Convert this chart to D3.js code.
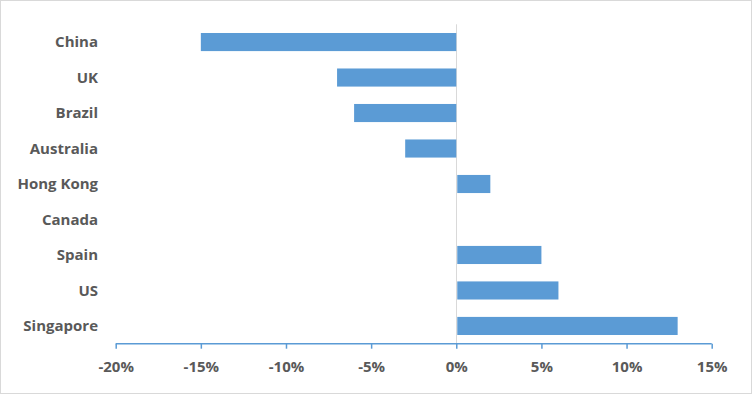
<!DOCTYPE html>
<html lang="en">
<head>
<meta charset="utf-8">
<title>Change by country</title>
<script src="https://d3js.org/d3.v7.min.js"></script>
<style>
  body { margin: 0; background: #fff; }
  svg text { font-family: "Open Sans", "Liberation Sans", Arial, sans-serif; }
</style>
</head>
<body>
<script>
// data
var countries = ["China", "UK", "Brazil", "Australia", "Hong Kong", "Canada", "Spain", "US", "Singapore"];
var values = [-15, -7, -6, -3, 2, 0, 5, 6, 13];
var tickValues = [-20, -15, -10, -5, 0, 5, 10, 15];

var w = 752, h = 394;
var padLeft = 115.7, padRight = 711.7, padTop = 24.3, padBottom = 343.7;

var svg = d3.select("body").append("svg")
  .attr("width", w)
  .attr("height", h);

// frame
svg.append("rect")
  .attr("x", 0.5).attr("y", 0.5)
  .attr("width", w - 1).attr("height", h - 1)
  .attr("fill", "#fff")
  .attr("stroke", "#d9d9d9");

var xScale = d3.scaleLinear().domain([-20, 15]).range([padLeft, padRight]);
var yScale = d3.scaleBand().domain(countries).range([padTop, padBottom]).paddingInner(0.49).paddingOuter(0.245);

// zero line
svg.append("line")
  .attr("x1", Math.round(xScale(0)) + 0.5).attr("x2", Math.round(xScale(0)) + 0.5)
  .attr("y1", padTop).attr("y2", padBottom)
  .attr("stroke", "#d9d9d9")
  .attr("stroke-width", 1);

// bars
svg.selectAll("rect.bar")
  .data(countries)
  .enter()
  .append("rect")
  .attr("class", "bar")
  .attr("x", function(d, i) { return values[i] < 0 ? xScale(values[i]) : xScale(0) + 1; })
  .attr("y", function(d) { return yScale(d); })
  .attr("width", function(d, i) { return Math.max(0, Math.abs(xScale(values[i]) - xScale(0)) - (values[i] > 0 ? 1 : 0)); })
  .attr("height", yScale.bandwidth())
  .attr("fill", "#5b9bd5");

// category labels
svg.selectAll("text.cat")
  .data(countries)
  .enter()
  .append("text")
  .attr("class", "cat")
  .attr("x", 98)
  .attr("y", function(d) { return yScale(d) + yScale.bandwidth() / 2; })
  .attr("dy", "0.35em")
  .attr("text-anchor", "end")
  .attr("font-size", "15px")
  .attr("font-weight", "bold")
  .attr("fill", "#595959")
  .text(function(d) { return d; });

// x axis
var xAxis = d3.axisBottom(xScale)
  .tickValues(tickValues)
  .tickSize(5)
  .tickSizeOuter(0)
  .tickFormat(function(d) { return d + "%"; });

var gx = svg.append("g")
  .attr("transform", "translate(0," + padBottom + ")")
  .call(xAxis);

gx.select(".domain").attr("stroke", "#5b9bd5").attr("stroke-width", 1.5)
  .attr("d", "M" + padLeft + ",0H" + padRight);
gx.selectAll(".tick line").attr("stroke", "#5b9bd5").attr("stroke-width", 1.5);
gx.selectAll(".tick text")
  .attr("y", 18)
  .attr("font-size", "15px")
  .attr("font-weight", "bold")
  .attr("fill", "#595959");
</script>
</body>
</html>
